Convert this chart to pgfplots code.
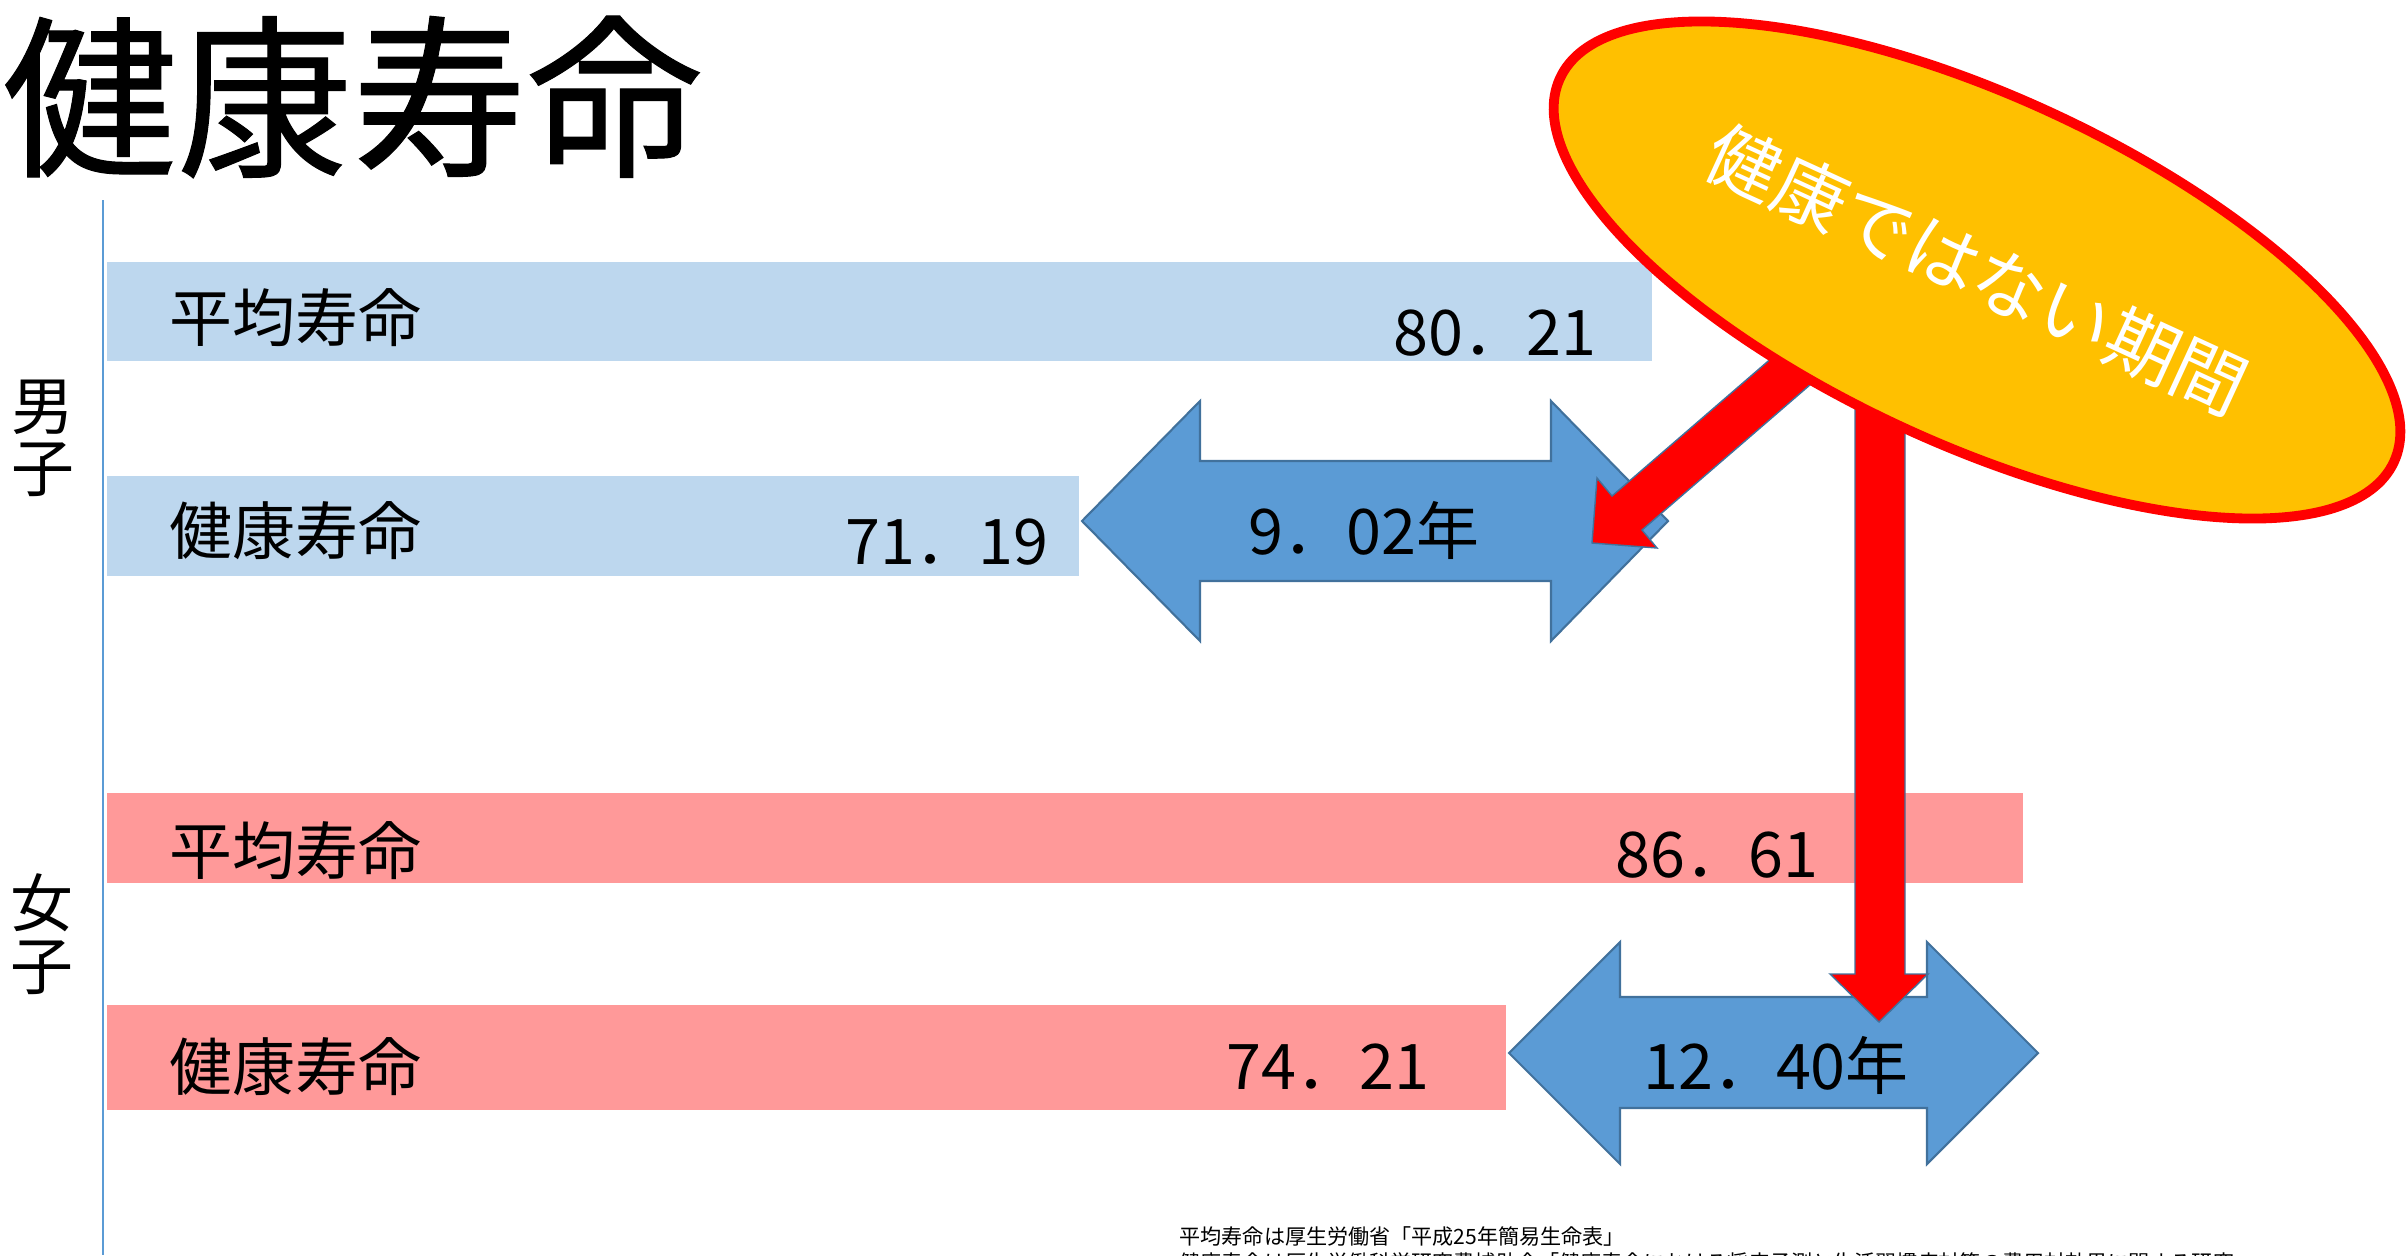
\documentclass[border=0pt]{standalone}
\usepackage{fontspec}
\setmainfont{Noto Sans CJK JP}
\newfontfamily\titlefont{Noto Sans CJK JP}[FakeBold=0.6]
\usepackage{pgfplots}
\pgfplotsset{compat=1.18}
\usetikzlibrary{shapes.geometric}
\definecolor{barblue}{HTML}{BDD7EE}
\definecolor{barpink}{HTML}{FF9999}
\definecolor{arrowblue}{HTML}{5B9BD5}
\definecolor{arrowedge}{HTML}{41719C}
\definecolor{ellfill}{HTML}{FFC000}
\newcommand\lbl{\fontsize{17.9}{20}\selectfont}

\begin{document}
\begin{tikzpicture}
\useasboundingbox (0,0) rectangle (24.07cm,12.55cm);
\clip (0,0) rectangle (24.07cm,12.55cm);
\begin{axis}[
  at={(0,0)}, anchor=south west,
  width=24.07cm, height=12.55cm, scale only axis,
  xmin=-107, xmax=2300, ymin=0, ymax=1255, y dir=reverse,
  hide axis, clip=false,
]
% bar lengths as drawn on the slide (the slide is not to scale with the labels)
\addplot[xbar, bar shift=0pt, bar width=99, fill=barblue, draw=none] coordinates {(1545,311.5)};
\addplot[xbar, bar shift=0pt, bar width=100, fill=barblue, draw=none] coordinates {(972,526)};
\addplot[xbar, bar shift=0pt, bar width=90, fill=barpink, draw=none] coordinates {(1916,838)};
\addplot[xbar, bar shift=0pt, bar width=105, fill=barpink, draw=none] coordinates {(1399,1057.5)};

\draw[arrowblue, line width=0.7pt] (axis cs:-4,200) -- (axis cs:-4,1255);

% gap arrows
\draw[fill=arrowblue, draw=arrowedge, line width=0.6pt]
  (axis cs:975,521) -- (axis cs:1093,401) -- (axis cs:1093,461) -- (axis cs:1444,461)
  -- (axis cs:1444,401) -- (axis cs:1561,521) -- (axis cs:1444,641) -- (axis cs:1444,581)
  -- (axis cs:1093,581) -- (axis cs:1093,641) -- cycle;
\draw[fill=arrowblue, draw=arrowedge, line width=0.6pt]
  (axis cs:1402,1053) -- (axis cs:1513,942) -- (axis cs:1513,997) -- (axis cs:1820,997)
  -- (axis cs:1820,942) -- (axis cs:1931,1053) -- (axis cs:1820,1164) -- (axis cs:1820,1108)
  -- (axis cs:1513,1108) -- (axis cs:1513,1164) -- cycle;

% text
\node[font=\titlefont\fontsize{49.8}{55}\selectfont, inner sep=0pt] at (axis cs:245,97) {健康寿命};
\node[font=\lbl, inner sep=0pt] at (axis cs:-64,407) {男};
\node[font=\lbl, inner sep=0pt] at (axis cs:-64,470) {子};
\node[font=\lbl, inner sep=0pt] at (axis cs:-65,903) {女};
\node[font=\lbl, inner sep=0pt] at (axis cs:-65,968) {子};
\node[font=\lbl, inner sep=0pt, anchor=west] at (axis cs:62,318) {平均寿命};
\node[font=\lbl, inner sep=0pt, anchor=west] at (axis cs:62,531) {健康寿命};
\node[font=\lbl, inner sep=0pt, anchor=west] at (axis cs:62,851) {平均寿命};
\node[font=\lbl, inner sep=0pt, anchor=west] at (axis cs:62,1067) {健康寿命};
\node[font=\lbl, inner sep=0pt, anchor=east] at (axis cs:1490,333) {80．21};
\node[font=\lbl, inner sep=0pt, anchor=east] at (axis cs:942,542) {71．19};
\node[font=\lbl, inner sep=0pt, anchor=east] at (axis cs:1712,855) {86．61};
\node[font=\lbl, inner sep=0pt, anchor=east] at (axis cs:1323,1067) {74．21};
\node[font=\lbl, inner sep=0pt] at (axis cs:1257,530) {9．02年};
\node[font=\lbl, inner sep=0pt] at (axis cs:1669,1065) {12．40年};

% pointers from the callout
\draw[fill=red, draw=arrowedge, line width=0.4pt]
  (axis cs:1485,543) -- (axis cs:1490,478) -- (axis cs:1505,496) -- (axis cs:1755,280)
  -- (axis cs:1785,314) -- (axis cs:1535,530) -- (axis cs:1550,548) -- cycle;
\draw[fill=red, draw=arrowedge, line width=0.4pt]
  (axis cs:1748,330) -- (axis cs:1748,974) -- (axis cs:1723,974) -- (axis cs:1772,1022)
  -- (axis cs:1821,974) -- (axis cs:1798,974) -- (axis cs:1798,330) -- cycle;

\node[ellipse, draw=red, line width=2.8pt, fill=ellfill, minimum width=9.18cm,
  minimum height=3.48cm, inner sep=0pt, rotate=-24.7, text=white,
  font=\fontsize{20.8}{24}\selectfont] at (axis cs:1870,270) {健康ではない期間};

% source note
\node[font=\fontsize{6}{7}\selectfont, inner sep=0pt, anchor=west] at (axis cs:1072,1236)
  {平均寿命は厚生労働省「平成25年簡易生命表」};
\node[font=\fontsize{6}{7}\selectfont, inner sep=0pt, anchor=west] at (axis cs:1072,1262)
  {健康寿命は厚生労働科学研究費補助金「健康寿命における将来予測と生活習慣病対策の費用対効果に関する研究」};
\end{axis}
\end{tikzpicture}
\end{document}
